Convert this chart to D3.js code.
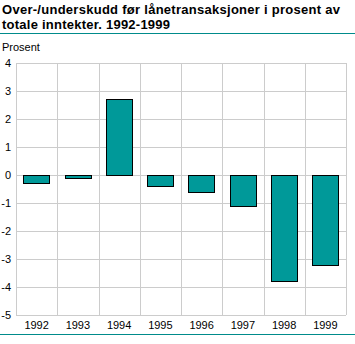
<!DOCTYPE html>
<html><head><meta charset="utf-8">
<script src="https://cdn.jsdelivr.net/npm/d3@7"></script>
<style>body{margin:0;background:#fff}svg{display:block}</style>
</head><body>
<script>
const years = ["1992","1993","1994","1995","1996","1997","1998","1999"];
const values = [-0.3,-0.1,2.7,-0.4,-0.6,-1.1,-3.8,-3.2];
const yTicks = [4,3,2,1,0,-1,-2,-3,-4,-5];
const titleLines = ["Over-/underskudd før lånetransaksjoner i prosent av","totale inntekter. 1992-1999"];
const titleWidths = [338,168];
const unitLabel = "Prosent";

const W=355,H=344;
const svg=d3.select("body").append("svg").attr("width",W).attr("height",H);
const font="'Liberation Sans', Arial, sans-serif";

svg.selectAll("text.title").data(titleLines).join("text")
  .attr("x",2).attr("y",(d,i)=>14+i*15)
  .attr("font-family",font).attr("font-size",13).attr("font-weight","bold")
  .attr("textLength",(d,i)=>titleWidths[i]).attr("lengthAdjust","spacing")
  .attr("fill","#000").text(d=>d);
svg.append("line").attr("x1",0).attr("x2",W).attr("y1",33.5).attr("y2",33.5).attr("stroke","#008b8b").attr("stroke-width",1);
svg.append("line").attr("x1",0).attr("x2",W).attr("y1",334.5).attr("y2",334.5).attr("stroke","#008b8b").attr("stroke-width",1);
svg.append("text").attr("x",2).attr("y",51).attr("font-family",font).attr("font-size",11).text(unitLabel);

const x=d3.scaleBand().domain(years).range([16,346]).paddingInner(0.36).paddingOuter(0.18);
const y=d3.scaleLinear().domain([-5,4]).range([315,63]);

const g=svg.append("g");
g.selectAll("line.h").data(yTicks).join("line")
  .attr("x1",16).attr("x2",346).attr("y1",d=>Math.round(y(d))+0.5).attr("y2",d=>Math.round(y(d))+0.5)
  .attr("stroke","#cccccc");
const vx=d3.range(years.length+1).map(i=>16+i*(330/years.length));
g.selectAll("line.v").data(vx).join("line")
  .attr("x1",d=>Math.round(d)+0.5).attr("x2",d=>Math.round(d)+0.5).attr("y1",63).attr("y2",315)
  .attr("stroke","#cccccc");

g.selectAll("rect").data(values).join("rect")
  .attr("x",(d,i)=>Math.round(x(years[i]))+0.5)
  .attr("width",Math.round(x.bandwidth()))
  .attr("y",d=>Math.round(y(Math.max(0,d)))+0.5)
  .attr("height",d=>Math.round(Math.abs(y(d)-y(0))))
  .attr("fill","#009999").attr("stroke","#000").attr("stroke-width",1);

svg.selectAll("text.yt").data(yTicks).join("text")
  .attr("x",11).attr("y",d=>y(d)+4).attr("text-anchor","end")
  .attr("font-family",font).attr("font-size",11).text(d=>d);
svg.selectAll("text.xt").data(years).join("text")
  .attr("x",d=>x(d)+x.bandwidth()/2).attr("y",329).attr("text-anchor","middle")
  .attr("font-family",font).attr("font-size",11).text(d=>d);
</script>
</body></html>
